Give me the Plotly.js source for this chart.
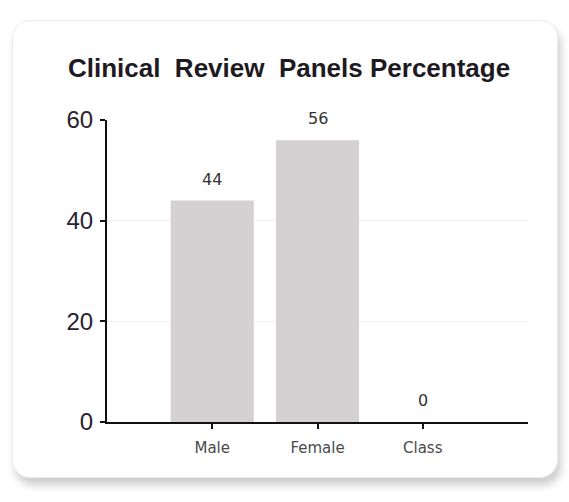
<!DOCTYPE html>
<html>
<head>
<meta charset="utf-8">
<script src="https://cdn.plot.ly/plotly-3.0.1.min.js"></script>
<style>
  html, body { margin: 0; padding: 0; background: #ffffff; }
  #card {
    position: absolute; left: 12px; top: 20px; width: 544px; height: 456px;
    background: #ffffff; border-radius: 18px;
    border: 1px solid #ececec;
    box-shadow: 3px 7px 9px rgba(0,0,0,0.2);
  }
  #chart { position: absolute; left: 0; top: 0; width: 569px; height: 502px; }
</style>
</head>
<body>
<div id="card"></div>
<div id="chart"></div>
<script>
const categories = ["Male", "Female", "Class"];
const values = [44, 56, 0];
const valueLabels = ["44", "56", "0"];
const yTicks = [0, 20, 40, 60];
const titleText = "Clinical\u00a0\u00a0Review\u00a0\u00a0Panels Percentage";

const trace = {
  type: "bar",
  x: categories,
  y: values,
  marker: { color: "#d5d1d3", line: { width: 0 } },
  width: 0.79,
  hoverinfo: "none"
};

const annotations = categories.map((c, i) => ({
  x: c, y: values[i], xref: "x", yref: "y",
  text: valueLabels[i], showarrow: false,
  yanchor: "bottom", yshift: 10,
  font: { family: "DejaVu Sans, sans-serif", size: 16, color: "#333333" }
}));

const layout = {
  width: 569,
  height: 502,
  margin: { l: 107, r: 41, t: 120, b: 80 },
  paper_bgcolor: "rgba(0,0,0,0)",
  plot_bgcolor: "rgba(0,0,0,0)",
  showlegend: false,
  annotations: annotations,
  title: {
    text: "<b>" + titleText + "</b>",
    font: { family: "Liberation Sans, Arial, sans-serif", size: 26, color: "#1e1a22" },
    x: 0.508, xanchor: "center",
    y: 0.865, yanchor: "middle", yref: "container"
  },
  xaxis: {
    type: "category",
    range: [-1, 3],
    showline: true, linecolor: "#111111", linewidth: 2,
    ticks: "outside", ticklen: 5, tickcolor: "#111111", tickwidth: 2,
    showgrid: false, zeroline: false,
    tickfont: { family: "DejaVu Sans, sans-serif", size: 15, color: "#4a4a4a" },
    ticklabelstandoff: 6,
    fixedrange: true
  },
  yaxis: {
    range: [0, 60],
    tickvals: yTicks,
    showline: true, linecolor: "#111111", linewidth: 2,
    ticks: "outside", ticklen: 5, tickcolor: "#111111", tickwidth: 2,
    showgrid: true, gridcolor: "#efefef", gridwidth: 1,
    zeroline: false,
    tickfont: { family: "Liberation Sans, Arial, sans-serif", size: 24, color: "#2a2230" },
    ticklabelstandoff: 2,
    fixedrange: true
  }
};

Plotly.newPlot("chart", [trace], layout, { displayModeBar: false, staticPlot: true });
</script>
</body>
</html>
